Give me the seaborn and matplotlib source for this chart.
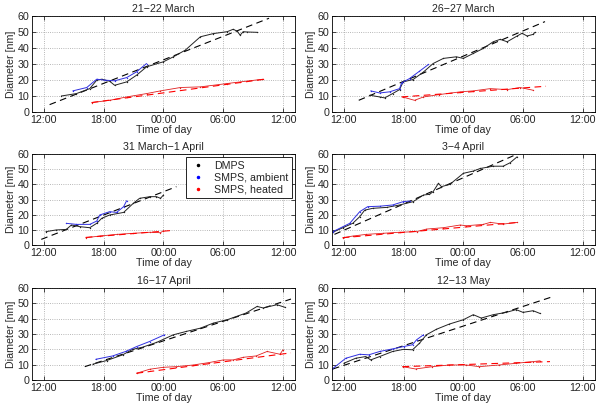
import pandas as pd
import matplotlib
matplotlib.use("Agg")
import matplotlib.pyplot as plt
from matplotlib.lines import Line2D
import seaborn as sns

# hours counted from 00:00 of the first day
titles = ['21\u221222 March', '26\u221227 March', '31 March\u22121 April',
          '3\u22124 April', '16\u221217 April', '12\u221213 May']
tick_hours = [12, 18, 24, 30, 36]
tick_labels = ['12:00', '18:00', '00:00', '06:00', '12:00']

dmps_t = [
    [13.75, 15.26, 16.6, 17.3, 17.8, 18.6, 19.1, 20.3, 21.3, 22.3, 24.0, 25.0, 26.2, 27.7, 29.0, 30.4, 31.0, 31.4, 31.7, 32.0, 32.4, 33.4],
    [14.6, 15.6, 16.1, 16.9, 17.6, 17.95, 18.96, 20.0, 20.97, 22.0, 23.3, 24.0, 25.0, 26.0, 27.0, 27.7, 28.4, 29.4, 29.9, 30.4, 31.0, 31.2],
    [12.2, 13.2, 14.25, 14.76, 15.6, 16.6, 17.3, 17.8, 18.6, 20.0, 20.97, 21.6, 22.65, 23.3, 23.7, 24.0],
    [10.9, 11.9, 12.9, 13.6, 14.1, 14.9, 16.3, 17.6, 18.96, 20.0, 20.6, 20.97, 21.5, 21.8, 22.65, 24.0, 25.0, 25.7, 27.0, 28.0, 28.7, 29.4],
    [16.9, 18.3, 19.9, 20.9, 21.9, 23.3, 25.0, 26.3, 27.7, 29.0, 30.4, 32.3, 33.4, 34.0, 35.4, 36.2],
    [12.0, 13.2, 14.2, 14.7, 15.6, 16.9, 18.0, 18.9, 19.6, 20.3, 21.3, 22.6, 24.0, 25.0, 25.8, 27.0, 28.3, 29.3, 30.0, 31.0, 31.7],
]
dmps_d = [
    [10.0, 11.5, 14.6, 19.9, 20.5, 19.2, 16.7, 18.8, 23.0, 28.2, 31.4, 34.5, 38.7, 47.0, 49.0, 50.2, 51.7, 50.5, 48.0, 50.2, 50.0, 49.8],
    [10.5, 9.4, 8.8, 11.5, 14.0, 18.8, 20.3, 25.0, 30.3, 33.5, 34.5, 33.5, 36.6, 39.7, 43.9, 45.4, 43.9, 47.5, 49.2, 47.5, 48.5, 49.8],
    [8.8, 9.9, 10.3, 13.2, 12.1, 11.4, 14.3, 17.6, 19.8, 21.5, 27.5, 30.8, 31.9, 31.9, 30.8, 33.0],
    [8.4, 11.4, 14.3, 18.7, 23.0, 24.2, 24.8, 26.4, 28.6, 33.0, 33.4, 35.2, 40.7, 38.5, 40.0, 47.3, 48.8, 50.5, 52.0, 52.0, 54.3, 58.2],
    [10.3, 12.7, 16.4, 20.0, 21.4, 24.5, 29.5, 31.7, 33.8, 37.1, 39.3, 43.7, 48.0, 47.0, 49.1, 47.4],
    [10.9, 14.2, 15.3, 13.1, 15.3, 18.6, 20.0, 19.7, 24.0, 29.5, 33.1, 36.5, 39.3, 42.6, 40.4, 42.6, 44.1, 45.9, 44.1, 45.2, 43.4],
]
amb_t = [
    [14.9, 16.3, 17.3, 18.1, 19.1, 20.3, 21.3, 22.3],
    [14.7, 15.6, 16.6, 17.6, 17.8, 18.6, 19.6, 20.5],
    [14.25, 15.26, 16.6, 17.3, 17.6, 18.6, 19.3, 20.0, 20.3],
    [10.9, 12.6, 13.6, 14.4, 15.6, 16.9, 17.95, 18.6],
    [17.2, 18.9, 20.2, 21.3, 22.6, 24.1],
    [10.8, 12.2, 13.6, 14.5, 15.6, 16.9, 18.0, 18.9, 19.3, 20.0],
]
amb_d = [
    [13.2, 15.3, 20.5, 19.9, 19.5, 21.5, 25.1, 30.3],
    [13.2, 11.9, 12.6, 14.6, 18.2, 20.9, 25.5, 29.7],
    [14.3, 13.6, 13.6, 15.8, 19.8, 22.0, 21.5, 25.3, 29.2],
    [8.8, 14.3, 22.0, 25.3, 25.6, 26.4, 28.6, 29.0],
    [13.5, 15.7, 18.6, 21.8, 25.1, 29.5],
    [7.0, 14.2, 16.8, 16.4, 18.6, 20.3, 21.8, 23.0, 26.2, 29.5],
]
heat_t = [
    [16.8, 18.6, 20.3, 22.3, 23.7, 25.7, 27.7, 30.4, 31.7, 34.0],
    [17.9, 19.1, 20.0, 21.6, 23.7, 25.0, 26.7, 28.4, 29.7, 31.0],
    [16.2, 17.6, 19.3, 20.97, 22.65, 23.7, 24.0],
    [11.9, 12.9, 14.25, 15.9, 17.6, 19.3, 20.3, 21.98, 23.7, 24.3, 26.0, 26.7, 28.0, 29.4],
    [21.3, 22.6, 24.0, 25.3, 27.0, 28.6, 30.0, 31.0, 32.0, 33.3, 34.4, 35.7, 36.0],
    [17.9, 19.2, 20.9, 22.6, 24.3, 25.6, 27.6, 29.3, 31.0, 31.7],
]
heat_d = [
    [5.9, 7.3, 9.4, 11.5, 13.2, 15.3, 15.7, 17.8, 18.8, 20.5],
    [9.4, 7.3, 9.4, 10.9, 12.6, 13.2, 14.6, 14.0, 15.3, 13.6],
    [4.8, 5.9, 7.0, 7.7, 8.4, 8.1, 9.5],
    [4.8, 5.9, 7.0, 7.7, 8.4, 8.8, 10.5, 11.4, 13.2, 12.7, 13.6, 14.9, 13.8, 14.9],
    [4.4, 7.0, 8.3, 8.7, 9.8, 11.4, 13.1, 13.1, 14.8, 15.7, 18.6, 16.8, 19.7],
    [8.7, 7.2, 8.7, 9.8, 9.8, 8.7, 9.8, 10.9, 12.0, 12.5],
]
# linear fits: (start hour, end hour), (start nm, end nm)
fit_dmps_t = [[12.57, 34.6], [13.5, 32.2], [11.73, 25.3], [11.06, 29.4], [16.1, 36.8], [10.9, 32.9]]
fit_dmps_d = [[4.6, 58.6], [7.3, 56.5], [3.7, 38.5], [7.0, 60.0], [8.7, 52.8], [7.2, 54.2]]
fit_heat_t = [[16.8, 34.2], [17.8, 32.3], [16.2, 24.7], [11.9, 29.5], [21.3, 36.8], [17.9, 32.7]]
fit_heat_d = [[5.9, 20.5], [9.4, 16.1], [5.0, 9.5], [4.8, 14.9], [4.4, 17.7], [8.7, 12.0]]

sns.set_style("ticks")
plt.rcParams['font.family'] = ['Liberation Sans', 'DejaVu Sans']
fs = 7.7

fig = plt.figure(figsize=(5.99, 4.04), dpi=100)
lefts = [0.0534, 0.554]
rows = [(0.7228, 0.2376), (0.3936, 0.225), (0.0594, 0.2277)]

for i in range(6):
    r, c = divmod(i, 2)
    ax = fig.add_axes([lefts[c], rows[r][0], 0.439, rows[r][1]])
    sns.lineplot(x=fit_dmps_t[i], y=fit_dmps_d[i], ax=ax, color='black', lw=0.8,
                 linestyle=(0, (6, 4)), sort=False)
    sns.lineplot(x=dmps_t[i], y=dmps_d[i], ax=ax, color='#222222', lw=0.7,
                 marker='.', markersize=2, markeredgewidth=0, sort=False)
    sns.lineplot(x=amb_t[i], y=amb_d[i], ax=ax, color='#3030e0', lw=0.7,
                 marker='.', markersize=2, markeredgewidth=0, sort=False)
    sns.lineplot(x=heat_t[i], y=heat_d[i], ax=ax, color='#e02020', lw=0.6,
                 marker='.', markersize=2, markeredgewidth=0, sort=False)
    sns.lineplot(x=fit_heat_t[i], y=fit_heat_d[i], ax=ax, color='red', lw=0.8,
                 linestyle=(0, (6, 4)), sort=False)
    ax.set_xlim(10.8, 37.2)
    ax.set_ylim(0, 60)
    ax.set_yticks(range(0, 61, 10))
    ax.set_xticks(tick_hours)
    ax.set_xticklabels(tick_labels)
    ax.grid(True, linestyle=':', color='#a0a0a0', lw=0.6)
    ax.tick_params(direction='in', length=3, width=0.6, pad=2, labelsize=fs,
                   top=True, right=True)
    for s in ax.spines.values():
        s.set_linewidth(0.6)
        s.set_color('black')
    ax.set_title(titles[i], fontsize=fs, pad=3)
    ax.set_xlabel('Time of day', fontsize=fs, labelpad=0)
    ax.set_ylabel('Diameter [nm]', fontsize=fs, labelpad=1)
    if i == 2:
        handles = [Line2D([], [], ls='none', marker='.', ms=3, color=col)
                   for col in ['black', 'blue', 'red']]
        leg = ax.legend(handles, ['DMPS', 'SMPS, ambient', 'SMPS, heated'],
                        loc='upper right', fontsize=fs, fancybox=False,
                        edgecolor='black', framealpha=1, handlelength=1.5,
                        borderpad=0.3, labelspacing=0.2, borderaxespad=0.3)
        leg.get_frame().set_linewidth(0.6)

fig.savefig('out.png', dpi=100)
